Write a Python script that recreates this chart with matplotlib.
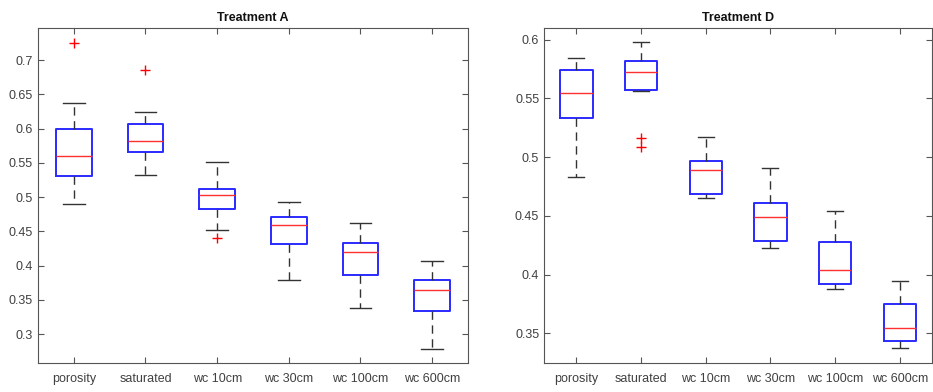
import matplotlib
matplotlib.use("Agg")
import matplotlib.pyplot as plt
from matplotlib.ticker import FuncFormatter

plt.rcParams["font.family"] = ["Liberation Sans", "DejaVu Sans"]

categories = ["porosity", "saturated", "wc 10cm", "wc 30cm", "wc 100cm", "wc 600cm"]

# Treatment A: lower whisker, Q1, median, Q3, upper whisker, outliers
a_whislo = [0.4905, 0.5324, 0.4517, 0.379, 0.339, 0.279]
a_q1     = [0.531, 0.5654, 0.4828, 0.4318, 0.3862, 0.3341]
a_med    = [0.5596, 0.5815, 0.5032, 0.460, 0.420, 0.3643]
a_q3     = [0.599, 0.6063, 0.512, 0.4716, 0.4328, 0.3793]
a_whishi = [0.6373, 0.6242, 0.5518, 0.4926, 0.4624, 0.4075]
a_fliers = [[0.7252], [0.6864], [0.440], [], [], []]

# Treatment D
d_whislo = [0.4829, 0.5565, 0.465, 0.4228, 0.3874, 0.3372]
d_q1     = [0.5331, 0.5569, 0.4682, 0.4282, 0.3922, 0.3432]
d_med    = [0.5543, 0.5722, 0.4891, 0.4486, 0.4041, 0.3548]
d_q3     = [0.5745, 0.5821, 0.4965, 0.4605, 0.4279, 0.3752]
d_whishi = [0.5844, 0.5977, 0.5172, 0.4908, 0.454, 0.3942]
d_fliers = [[], [0.5163, 0.5082], [], [], [], []]


def make_stats(lo, q1, med, q3, hi, fl):
    return [dict(whislo=a, q1=b, med=c, q3=d, whishi=e, fliers=f, label=l)
            for a, b, c, d, e, f, l in zip(lo, q1, med, q3, hi, fl, categories)]


fig = plt.figure(figsize=(9.33, 3.92), dpi=100)
axA = fig.add_axes([0.0407, 0.0740, 0.4609, 0.8546])
axD = fig.add_axes([0.5831, 0.0740, 0.4159, 0.8546])

spine_col = "#555555"
text_col = "#404040"


def draw(ax, stats, title, ylim, yticks, capw):
    ax.bxp(stats, widths=0.5, capwidths=capw,
           boxprops=dict(color="#2a2aff", linewidth=1.4),
           medianprops=dict(color="#ff3030", linewidth=1.0),
           whiskerprops=dict(color="#333333", linestyle=(0, (6, 4)), linewidth=1.0),
           capprops=dict(color="#333333", linewidth=1.0),
           flierprops=dict(marker="+", markeredgecolor="red", markersize=7, linestyle="none"))
    ax.set_xlim(0.5, 6.5)
    ax.set_ylim(*ylim)
    ax.set_yticks(yticks)
    ax.yaxis.set_major_formatter(FuncFormatter(lambda v, p: "%g" % round(v, 2)))
    ax.set_xticks(range(1, 7))
    ax.set_xticklabels(categories)
    ax.tick_params(direction="in", top=True, right=True, length=4, width=0.8,
                   colors=spine_col, labelcolor=text_col, labelsize=9)
    ax.tick_params(axis="x", pad=7)
    for s in ax.spines.values():
        s.set_color(spine_col)
        s.set_linewidth(0.8)
    ax.set_title(title, fontsize=9, fontweight="bold", color="#111111", pad=5)


draw(axA, make_stats(a_whislo, a_q1, a_med, a_q3, a_whishi, a_fliers), "Treatment A",
     (0.258, 0.747), [0.3, 0.35, 0.4, 0.45, 0.5, 0.55, 0.6, 0.65, 0.7], 0.3)
draw(axD, make_stats(d_whislo, d_q1, d_med, d_q3, d_whishi, d_fliers), "Treatment D",
     (0.3247, 0.6099), [0.35, 0.4, 0.45, 0.5, 0.55, 0.6], 0.25)

fig.savefig("out.png", dpi=100)
